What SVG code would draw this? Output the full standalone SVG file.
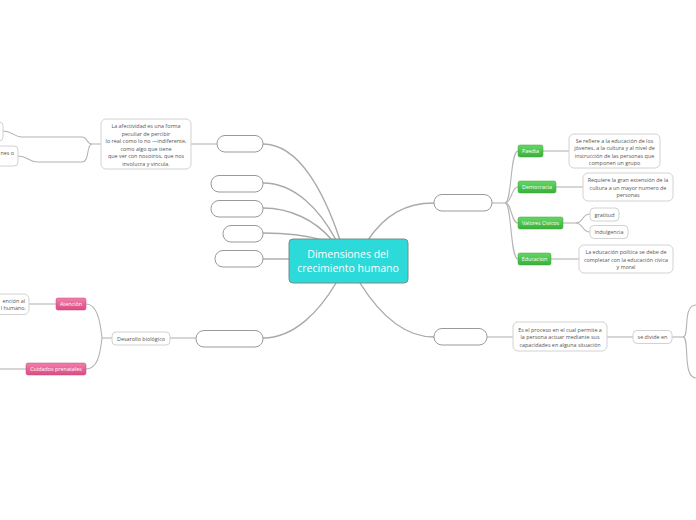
<svg xmlns="http://www.w3.org/2000/svg" width="696" height="520" viewBox="0 0 696 520">
<defs>
<linearGradient id="g" x1="0" y1="0" x2="0" y2="1"><stop offset="0" stop-color="#66d766"/><stop offset="1" stop-color="#3aaf3a"/></linearGradient>
<linearGradient id="p" x1="0" y1="0" x2="0" y2="1"><stop offset="0" stop-color="#f27fab"/><stop offset="1" stop-color="#d94c84"/></linearGradient>
</defs>
<style>
.c{fill:none;stroke:#b4b4b4;stroke-width:1.1}
.cm{fill:none;stroke:#aaaaaa;stroke-width:1.4}
.e{fill:#fff;stroke:#999;stroke-width:1}
.d{fill:#fff;stroke:#d2d2d2;stroke-width:1}
.gn{fill:url(#g);stroke:#3da53d;stroke-width:0.5}
.pn{fill:url(#p);stroke:#c9467a;stroke-width:0.5}
text{font-family:"Open Sans","Noto Sans","DejaVu Sans",sans-serif;font-size:5.4px;fill:#555;text-anchor:middle}
.w{fill:#fff}
.big{font-size:10.5px;fill:#fff}
</style>
<rect width="696" height="520" fill="#fff"/>
<g id="connectors">
<path class="cm" d="M340,240 C325,195 300,144 263,144"/>
<path class="cm" d="M336,240 C320,210 295,183 263,183"/>
<path class="cm" d="M332,240 C315,220 290,208 263,208"/>
<path class="cm" d="M322,240 C305,235 285,233 263,233"/>
<path class="cm" d="M289,259 L263,259"/>
<path class="cm" d="M368,240 C385,215 405,203 434,203"/>
<path class="cm" d="M360,283 C380,315 405,337 434,337"/>
<path class="cm" d="M336,283 C320,310 295,338 263,338"/>
<path class="c" d="M217,144 L191,144"/>
<path class="c" d="M101,144 L92,144 C86,144 88,137 82,137 L22,137 C14,137 12,131 3,131"/>
<path class="c" d="M92,144 C86,144 90,162 82,162 L38,162 C28,162 28,156 18,156"/>
<path class="c" d="M492,203 L505,203"/>
<path class="c" d="M505,203 C512,203 510,151 518,151"/>
<path class="c" d="M505,203 C512,203 511,187 518,187"/>
<path class="c" d="M505,203 C512,203 511,223 518,223"/>
<path class="c" d="M505,203 C512,203 510,259 518,259"/>
<path class="c" d="M543,151 L569,151"/>
<path class="c" d="M556,187 L583,187"/>
<path class="c" d="M563,223 L576,223"/>
<path class="c" d="M576,223 C583,223 582,214 590,214"/>
<path class="c" d="M576,223 C583,223 582,232 590,232"/>
<path class="c" d="M551,259 L579,259"/>
<path class="c" d="M487,337 L513,337"/>
<path class="c" d="M607,337 L633,337"/>
<path class="c" d="M672,337 L683,337"/>
<path class="c" d="M683,337 C690,337 682,305 696,305"/>
<path class="c" d="M683,337 C690,337 682,378 696,378"/>
<path class="c" d="M196,338 L170,338"/>
<path class="c" d="M112,338 L102,338"/>
<path class="c" d="M102,338 C100,320 97,304 86,304"/>
<path class="c" d="M102,338 C100,356 97,369 86,369"/>
<path class="c" d="M56,304 L29,304"/>
<path class="c" d="M26,369 L0,369"/>
</g>
<g id="center">
<rect x="289" y="239" width="119" height="44" rx="4" fill="#2cdada" stroke="#7a8a8a" stroke-width="1"/>
<text class="big" x="348" y="258">Dimensiones del</text>
<text class="big" x="348" y="272">crecimiento humano</text>
</g>
<g id="l1"><rect class="e" x="217" y="135.5" width="46" height="16.5" rx="8"/></g>
<g id="l2"><rect class="e" x="211" y="175.5" width="52" height="16.5" rx="8"/></g>
<g id="l3"><rect class="e" x="211" y="200.5" width="52" height="16.5" rx="8"/></g>
<g id="l4"><rect class="e" x="223" y="225.5" width="40" height="16.5" rx="8"/></g>
<g id="l5"><rect class="e" x="215" y="250.5" width="48" height="16.5" rx="8"/></g>
<g id="r1"><rect class="e" x="434" y="194.5" width="58" height="16.5" rx="8"/></g>
<g id="r2"><rect class="e" x="434" y="328.5" width="53" height="16.5" rx="8"/></g>
<g id="lb"><rect class="e" x="196" y="330.5" width="67" height="16.5" rx="8"/></g>
<g id="afectividad">
<rect class="d" x="101" y="119" width="90" height="50" rx="5"/>
<text x="146" y="128">La afectividad es una forma</text>
<text x="146" y="135.5">peculiar de percibir</text>
<text x="146" y="143">lo real como lo no —indiferente,</text>
<text x="146" y="150.5">como algo que tiene</text>
<text x="146" y="158">que ver con nosotros, que nos</text>
<text x="146" y="165.5">involucra y vincula.</text>
</g>
<g id="leftTop"><rect class="d" x="-30" y="122" width="33" height="19" rx="4"/></g>
<g id="leftMid"><rect class="d" x="-30" y="146" width="48" height="20" rx="4"/>
<text x="14" y="155" style="text-anchor:end">nes o</text></g>
<g id="paedia"><rect class="gn" x="518" y="145" width="25" height="12" rx="2"/><text class="w" x="530.5" y="153">Paedia</text></g>
<g id="democracia"><rect class="gn" x="518" y="181" width="38" height="12" rx="2"/><text class="w" x="537" y="189">Democracia</text></g>
<g id="valores"><rect class="gn" x="518" y="217" width="45" height="12" rx="2"/><text class="w" x="540.5" y="225">Valores Civicos</text></g>
<g id="educacion"><rect class="gn" x="518" y="253" width="33" height="12" rx="2"/><text class="w" x="534.5" y="261">Educacion</text></g>
<g id="paediaDesc">
<rect class="d" x="569" y="134" width="91" height="34" rx="5"/>
<text x="614.5" y="142.5">Se refiere a la educación de los</text>
<text x="614.5" y="150">jóvenes, a la cultura y al nivel de</text>
<text x="614.5" y="157.5">instrucción de las personas que</text>
<text x="614.5" y="165">componen un grupo</text>
</g>
<g id="demoDesc">
<rect class="d" x="583" y="173" width="90" height="28" rx="5"/>
<text x="628" y="182">Requiere la gran extensión de la</text>
<text x="628" y="189.5">cultura  a un mayor numero de</text>
<text x="628" y="197">personas</text>
</g>
<g id="gratitud"><rect class="d" x="590" y="208" width="29" height="13" rx="4"/><text x="604.5" y="216.5">gratitud</text></g>
<g id="indulgencia"><rect class="d" x="590" y="225.5" width="38" height="13" rx="4"/><text x="609" y="234">Indulgencia</text></g>
<g id="eduDesc">
<rect class="d" x="579" y="245" width="94" height="28" rx="5"/>
<text x="626" y="254">La educación política se debe de</text>
<text x="626" y="261.5">completar con la educación cívica</text>
<text x="626" y="269">y moral</text>
</g>
<g id="proceso">
<rect class="d" x="513" y="322" width="94" height="29" rx="5"/>
<text x="560" y="331.5">Es el proceso en el cual permite a</text>
<text x="560" y="339">la persona actuar mediante sus</text>
<text x="560" y="346.5">capacidades en alguna situación</text>
</g>
<g id="divide"><rect class="d" x="633" y="330.5" width="39" height="13" rx="4"/><text x="652.5" y="339">se divide en</text></g>
<g id="desarrollo"><rect class="d" x="112" y="332" width="58" height="13" rx="4"/><text x="141" y="340.5">Desarollo biológico</text></g>
<g id="atencion"><rect class="pn" x="56" y="298" width="30" height="12" rx="2"/><text class="w" x="71" y="306">Atención</text></g>
<g id="cuidados"><rect class="pn" x="26" y="363" width="60" height="12" rx="2"/><text class="w" x="56" y="371">Cuidados prenatales</text></g>
<g id="atencionDesc"><rect class="d" x="-40" y="294" width="69" height="20.5" rx="5"/>
<text x="25" y="302.5" style="text-anchor:end">ención al</text>
<text x="26" y="310" style="text-anchor:end">l humano.</text></g>
</svg>
